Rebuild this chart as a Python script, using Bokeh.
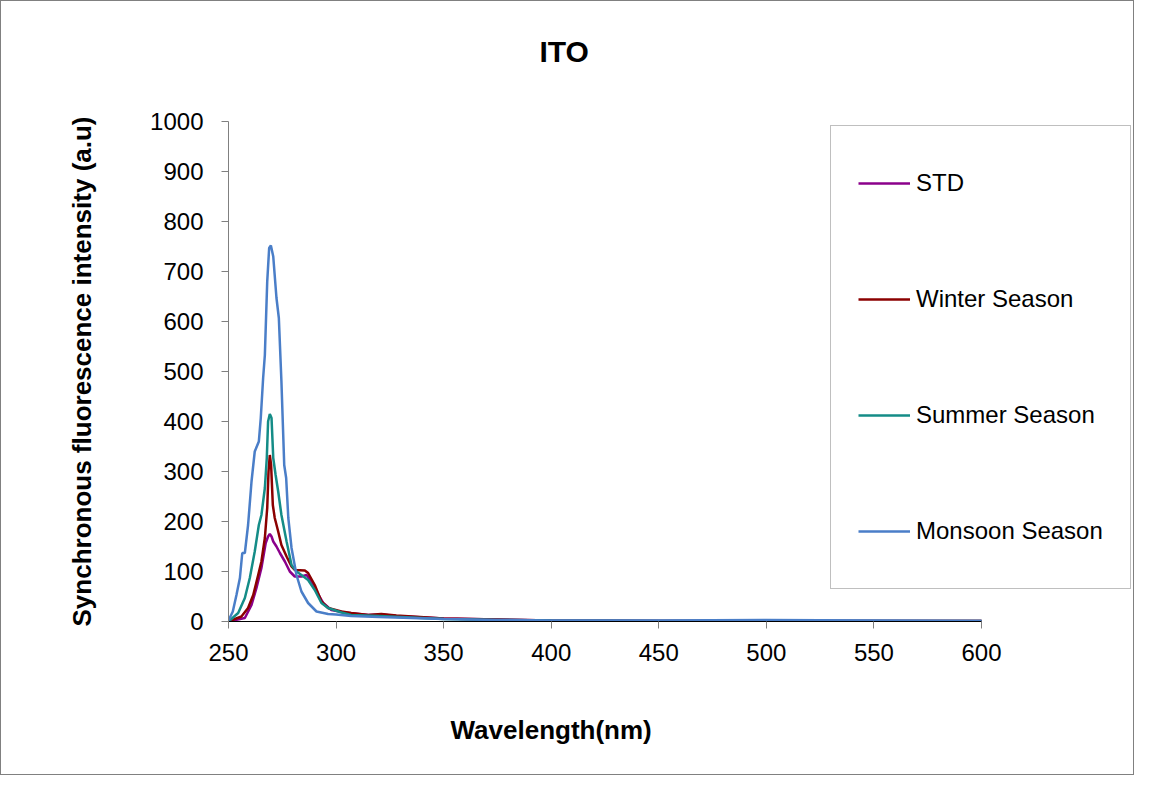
from bokeh.plotting import figure
from bokeh.models import Range1d, FixedTicker, Legend, LegendItem, Title
from bokeh.embed import file_html
from bokeh.resources import INLINE

title_text = "ITO"
x_label = "Wavelength(nm)"
y_label = "Synchronous fluorescence intensity (a.u)"
x_ticks = [250, 300, 350, 400, 450, 500, 550, 600]
y_ticks = [0, 100, 200, 300, 400, 500, 600, 700, 800, 900, 1000]

std_wl = [250, 257.6, 260.7, 263, 265.3, 267.3, 268.4, 269.2, 270, 270.8, 272.3, 273.9, 276.2, 278.5,
          280.8, 283.9, 286.3, 288.6, 290.9, 294, 297.8, 304, 315, 321, 328, 350, 375, 400, 450, 500, 550, 600]
std_val = [0, 7, 33, 67, 107, 157, 170, 175, 170, 160, 150, 137, 120, 100,
           90, 90, 93, 80, 60, 37, 23, 18, 13, 14, 11, 6, 4, 2, 1, 1, 1, 1]

winter_wl = [250, 256, 259.1, 261.5, 263.8, 265.3, 266.9, 268, 268.6, 269.2, 269.8, 270.6, 271.5, 273.1,
             274.6, 277, 279.3, 280.8, 285.5, 287, 290.1, 293.2, 296.3, 302.5, 307, 315, 321, 328, 350,
             375, 400, 450, 500, 550, 600]
winter_val = [0, 10, 27, 53, 93, 120, 167, 227, 300, 333, 313, 233, 207, 180,
              153, 130, 110, 103, 102, 97, 73, 40, 27, 20, 17, 13, 15, 12, 6,
              4, 2, 1, 1, 1, 1]

summer_wl = [250, 254.5, 257.6, 259.9, 262.2, 264.1, 265.3, 266.9, 267.8, 268.4, 269.2, 270, 270.8, 271.9,
             273.1, 274.6, 277, 279.3, 281.6, 283.9, 287, 290.1, 293.2, 296.3, 302.5, 307, 320, 335, 350,
             375, 400, 450, 500, 550, 600]
summer_val = [0, 17, 47, 87, 140, 193, 213, 267, 327, 400, 415, 407, 327, 293,
              260, 213, 160, 113, 100, 93, 83, 63, 37, 27, 18, 13, 11, 8, 5,
              3, 2, 1, 1, 1, 1]

monsoon_wl = [250, 252, 253.7, 255.3, 256.4, 257.6, 259.1, 260.7, 262.2, 264.1, 265, 266.1, 266.9, 268,
              268.9, 269.7, 270.8, 272.3, 273.4, 274.6, 275.9, 276.8, 277.8, 279.3, 281.6, 283.9, 287,
              290.9, 296.3, 300, 307, 320, 335, 350, 375, 400, 450, 500, 550, 600]
monsoon_val = [2, 20, 53, 87, 137, 137, 193, 280, 340, 360, 407, 487, 533, 680,
               747, 752, 730, 647, 607, 480, 313, 287, 207, 147, 93, 60, 37,
               20, 15, 14, 11, 9, 7, 5, 3, 2, 2, 3, 2, 1]

series_names = ["STD", "Winter Season", "Summer Season", "Monsoon Season"]
series_colors = ["#8B008B", "#8B0000", "#148C87", "#4A7EC8"]
series_x = [std_wl, winter_wl, summer_wl, monsoon_wl]
series_y = [std_val, winter_val, summer_val, monsoon_val]

FONT = "Liberation Sans"

# frame spans the legend too; the x axis itself is bounded to 250..600
FRAME_LEFT, FRAME_RIGHT, FRAME_TOP, FRAME_BOTTOM = 227, 1131, 120, 620
W, H = 1134, 775
px_per_nm = 753 / 350.0
x_end = 250 + (FRAME_RIGHT - FRAME_LEFT) / px_per_nm

p = figure(width=W, height=H, output_backend="svg", toolbar_location=None, title=None,
           x_range=Range1d(250, x_end), y_range=Range1d(0, 1000),
           min_border_left=FRAME_LEFT, min_border_right=W - FRAME_RIGHT,
           min_border_top=FRAME_TOP, min_border_bottom=H - FRAME_BOTTOM)
p.styles = {"border": "1px solid #808080", "box-sizing": "border-box"}
p.background_fill_color = "white"
p.border_fill_color = "white"
p.outline_line_color = None
p.xgrid.visible = False
p.ygrid.visible = False

for ax in (p.xaxis[0], p.yaxis[0]):
    ax.major_label_text_font = FONT
    ax.major_label_text_font_size = "24px"
    ax.major_label_text_color = "black"
    ax.axis_label_text_font = FONT
    ax.axis_label_text_font_size = "26px"
    ax.axis_label_text_font_style = "bold"
    ax.axis_label_text_color = "black"
    ax.minor_tick_line_color = None
    ax.major_tick_in = 0
    ax.major_tick_out = 7
    ax.major_tick_line_color = "#808080"
    ax.axis_line_color = "#808080"

p.xaxis[0].axis_line_color = "black"
p.xaxis.bounds = (250, 600)
p.xaxis.ticker = FixedTicker(ticks=x_ticks)
p.yaxis.ticker = FixedTicker(ticks=y_ticks)
p.yaxis.axis_label = y_label
p.yaxis.major_label_standoff = 18
p.xaxis.major_label_standoff = 15
p.yaxis.axis_label_standoff = 50

# chart title: a thin spacer next to the frame, then the title further out
p.add_layout(Title(text=" ", text_font_size="1px", standoff=46), "above")
p.add_layout(Title(text=title_text, align="left", offset=311, text_font=FONT, text_font_size="30px",
                   text_font_style="bold", text_color="black", standoff=10), "above")

# x-axis title under the 250..600 axis (not the wider frame)
p.add_layout(Title(text=" ", text_font_size="1px", standoff=41), "below")
p.add_layout(Title(text=x_label, align="left", offset=222, text_font=FONT, text_font_size="26px",
                   text_font_style="bold", text_color="black", standoff=10), "below")

items = []
for name, col, xs, ys in zip(series_names, series_colors, series_x, series_y):
    r = p.line(xs, ys, line_color=col, line_width=2.5)
    items.append(LegendItem(label=name, renderers=[r]))

legend = Legend(items=items, location=(829 - FRAME_LEFT, FRAME_BOTTOM - 588), orientation="vertical")
legend.border_line_color = "#808080"
legend.border_line_width = 1
legend.background_fill_color = "white"
legend.background_fill_alpha = 1
legend.label_text_font = FONT
legend.label_text_font_size = "24px"
legend.label_text_color = "black"
legend.glyph_width = 52
legend.glyph_height = 60
legend.label_height = 60
legend.spacing = 56
legend.padding = 27
legend.label_standoff = 6
legend.margin = 0
p.add_layout(legend, "center")

open("out.html", "w").write(file_html(p, INLINE))
